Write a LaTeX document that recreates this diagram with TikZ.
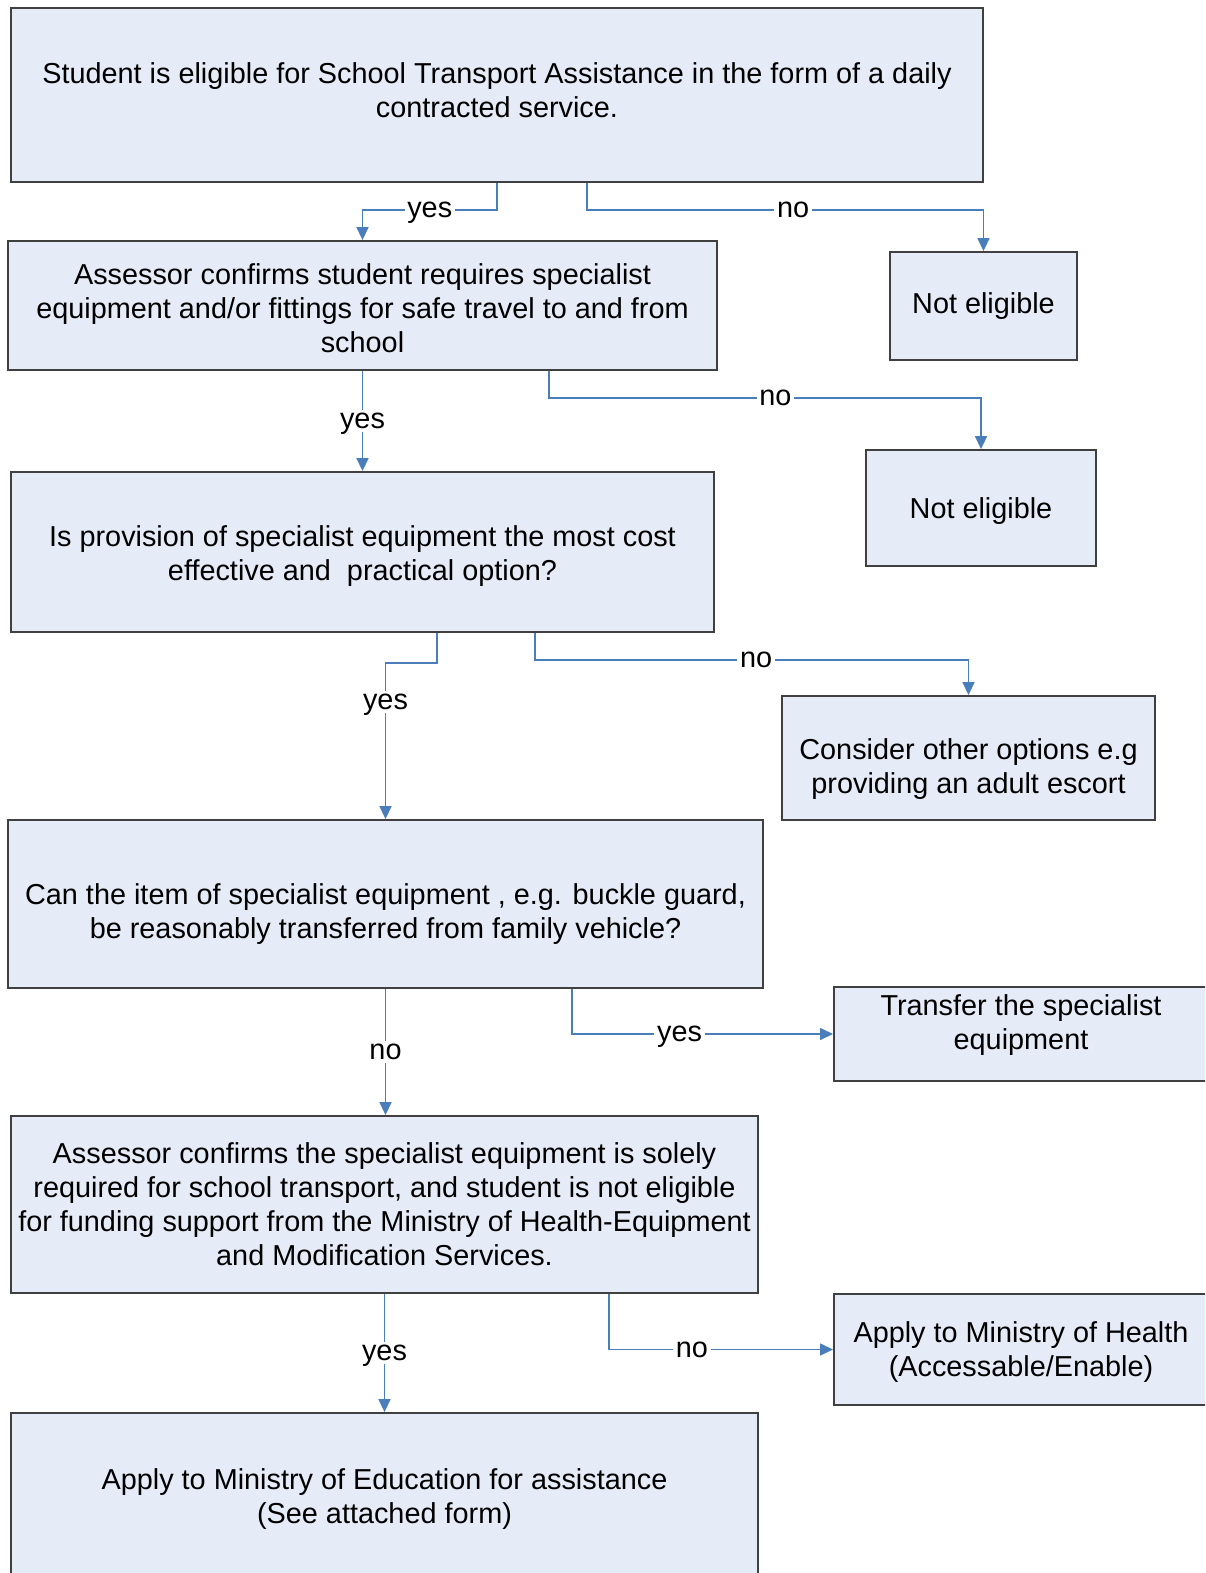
\documentclass[tikz,border=0pt]{standalone}
\usepackage{fontspec}
\setmainfont{Liberation Sans}
\usetikzlibrary{arrows.meta}
\definecolor{clrBox}{HTML}{E6ECF7}
\definecolor{clrLink}{HTML}{4A7EBB}
% struts that move a box text down (top) or up (bottom)
\newcommand{\dnstrut}[1]{\rule{0pt}{#1}}
\newcommand{\upstrut}[1]{\rule[-#1]{0pt}{0pt}}
\tikzset{
  box/.style = {rectangle, draw=black!75, fill=clrBox, line width=0.5pt, align=center,
                inner sep=0pt, font=\fontsize{8.2}{9.7}\selectfont},
  link/.style = {-{Triangle[length=1.3mm, width=1.2mm]}, draw=clrLink, line width=0.45pt},
  tag/.style = {fill=white, inner xsep=0.8pt, inner ysep=1pt, text depth=0pt,
                font=\fontsize{8.2}{9.7}\selectfont},
}
\begin{document}
\begin{tikzpicture}[x=0.01cm, y=-0.01cm]
  \useasboundingbox (0,0) rectangle (1205,1573);
  \clip (0,0) rectangle (1205,1573);

  % Main column
  \node[box, minimum width=9.72cm, minimum height=1.74cm] (elig) at (497,95)
    {Student is eligible for School Transport Assistance in the form of a daily\\contracted service.\upstrut{2.85pt}};
  \node[box, minimum width=7.09cm, minimum height=1.29cm] (confirm) at (362.5,305.5)
    {\dnstrut{7.6pt}Assessor confirms student requires specialist\\equipment and/or fittings for safe travel to and from\\school};
  \node[box, minimum width=7.03cm, minimum height=1.60cm] (cost) at (362.5,552)
    {\dnstrut{8.4pt}Is provision of specialist equipment the most cost\\effective and\ \ practical option?};
  \node[box, minimum width=7.55cm, minimum height=1.68cm] (item) at (385.5,904)
    {\dnstrut{11.6pt}Can the item of specialist equipment , e.g. buckle guard,\\be reasonably transferred from family vehicle?};
  \node[box, minimum width=7.47cm, minimum height=1.77cm] (solely) at (384.5,1204.5)
    {Assessor confirms the specialist equipment is solely\\required for school transport, and student is not eligible\\for funding support from the Ministry of Health-Equipment\\and Modification Services.};
  \node[box, minimum width=7.47cm, minimum height=1.66cm] (moe) at (384.5,1496)
    {\dnstrut{7.6pt}Apply to Ministry of Education for assistance\\(See attached form)};

  % Right column
  \node[box, minimum width=1.87cm, minimum height=1.08cm] (ne1) at (983.5,306) {Not eligible};
  \node[box, minimum width=2.30cm, minimum height=1.16cm] (ne2) at (981,508) {\dnstrut{7.6pt}Not eligible};
  \node[box, minimum width=3.73cm, minimum height=1.24cm] (other) at (968.5,758)
    {\dnstrut{12.2pt}Consider other options e.g\\providing an adult escort};
  \node[box, minimum width=3.74cm, minimum height=0.94cm] (transfer) at (1021,1034)
    {Transfer the specialist\\equipment\upstrut{6.8pt}};
  \node[box, minimum width=3.74cm, minimum height=1.11cm] (moh) at (1021,1349.5)
    {\dnstrut{7.6pt}Apply to Ministry of Health\\(Accessable/Enable)};

  % Connectors
  \draw[link] (elig.south) -- ++(0,27) -| node[tag, pos=0.25] {yes} (confirm.north);
  \draw[link] ([xshift=0.9cm]elig.south) -- ++(0,27) -| node[tag, pos=0.26] {no} (ne1.north);

  \draw[link] (confirm.south) -- node[tag] {yes} (cost.north);
  \draw[link] ([xshift=1.865cm]confirm.south) -- ++(0,27) -| node[tag, pos=0.262] {no} (ne2.north);

  \draw[link] ([xshift=0.745cm]cost.south) -- ++(0,30) -| node[tag, pos=0.625] {yes} (item.north);
  \draw[link] ([xshift=1.725cm]cost.south) -- ++(0,27) -| node[tag, pos=0.255] {no} (other.north);

  \draw[link] (item.south) -- node[tag] {no} (item.south |- solely.north);
  \draw[link] ([xshift=1.865cm]item.south) |- node[tag, pos=0.706] {yes} (transfer.west);

  \draw[link] (solely.south) -- node[tag] {yes} (moe.north);
  \draw[link] ([xshift=2.245cm]solely.south) |- node[tag, pos=0.685] {no} (moh.west);
\end{tikzpicture}
\end{document}
